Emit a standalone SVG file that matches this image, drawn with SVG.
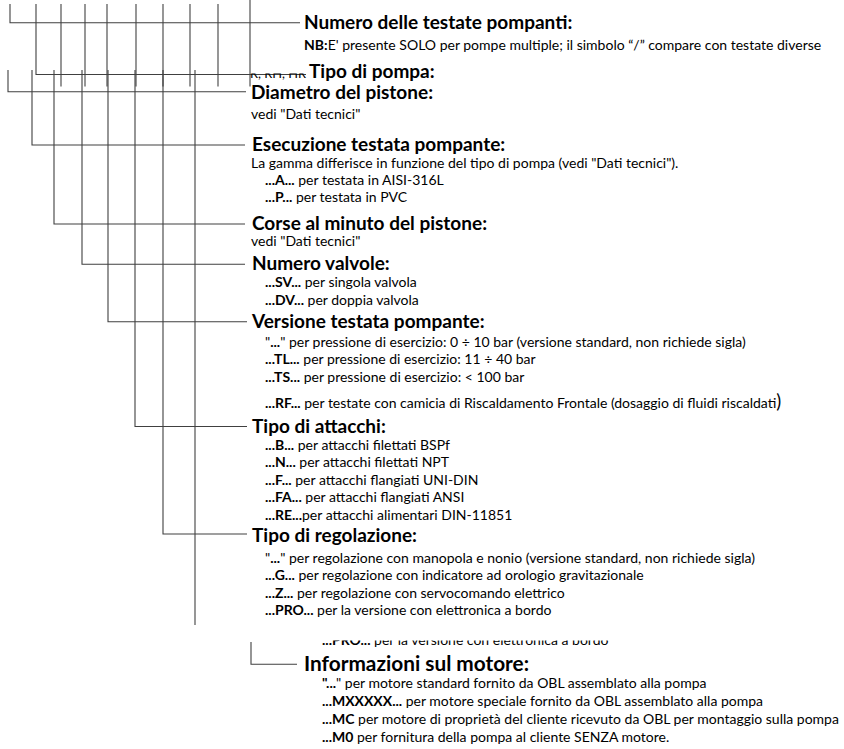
<svg xmlns="http://www.w3.org/2000/svg" width="844" height="749" viewBox="0 0 844 749">
<defs>
<style>
.h{font-family:Lato,"Open Sans",sans-serif;font-weight:bold;font-size:19px;fill:#000}
.hl{font-size:20.8px}
.t{font-family:Lato,"Open Sans",sans-serif;font-size:14px;fill:#000}
.b{font-weight:bold}
.c{fill:none;stroke:#404040;stroke-width:1.1}
</style>
<clipPath id="clipR"><rect x="240" y="73.5" width="68" height="10"/></clipPath>
<clipPath id="clipPRO"><rect x="300" y="640.5" width="440" height="12"/></clipPath>
</defs>
<rect width="844" height="749" fill="#fff"/>
<g id="connectors" class="c">
<path d="M10 4V22.7H300"/>
<path d="M36 4V74.5H306"/>
<path d="M61 4V86.5"/>
<path d="M85 4V86.5"/>
<path d="M107 4V86.5"/>
<path d="M136 4V86.5"/>
<path d="M163 4V86.5"/>
<path d="M190 4V86.5"/>
<path d="M218 4V86.5"/>
<path d="M250 0V86.5"/>
<path d="M8 70V91.7H246"/>
<path d="M32 70V145H245"/>
<path d="M54 70V224H245"/>
<path d="M82 70V264.3H245"/>
<path d="M108 70V321.7H247"/>
<path d="M135 70V426.5H247"/>
<path d="M163 70V534H247"/>
<path d="M195 70V625"/>
<path d="M251 642V664.3H297"/>
</g>
<g id="n1">
<text class="h" x="304" y="29">Numero delle testate pompanti:</text>
<text class="t" x="304" y="50"><tspan class="b">NB:</tspan>E' presente SOLO per pompe multiple; il simbolo “/” compare con testate diverse</text>
</g>
<g id="n2">
<text class="t" x="250" y="78" textLength="56" lengthAdjust="spacingAndGlyphs" clip-path="url(#clipR)">R, RH, HR</text>
<text class="h" x="309" y="78">Tipo di pompa:</text>
</g>
<g id="n3">
<text class="h" x="251" y="99">Diametro del pistone:</text>
<text class="t" x="251" y="119">vedi "Dati tecnici"</text>
</g>
<g id="n4">
<text class="h" x="252" y="150.5">Esecuzione testata pompante:</text>
<text class="t" x="251" y="167.5">La gamma differisce in funzione del tipo di pompa (vedi "Dati tecnici").</text>
<text class="t" x="265" y="184.5"><tspan class="b">...A...</tspan> per testata in AISI-316L</text>
<text class="t" x="265" y="201.5"><tspan class="b">...P...</tspan> per testata in PVC</text>
</g>
<g id="n5">
<text class="h" x="252" y="229.5">Corse al minuto del pistone:</text>
<text class="t" x="251" y="246">vedi "Dati tecnici"</text>
</g>
<g id="n6">
<text class="h" x="252" y="270">Numero valvole:</text>
<text class="t" x="265" y="287"><tspan class="b">...SV...</tspan> per singola valvola</text>
<text class="t" x="265" y="304.5"><tspan class="b">...DV...</tspan> per doppia valvola</text>
</g>
<g id="n7">
<text class="h" x="252" y="327.5">Versione testata pompante:</text>
<text class="t" x="265" y="346.5">"<tspan class="b">...</tspan>" per pressione di esercizio: 0 ÷ 10 bar (versione standard, non richiede sigla)</text>
<text class="t" x="265" y="364"><tspan class="b">...TL...</tspan> per pressione di esercizio: 11 ÷ 40 bar</text>
<text class="t" x="265" y="381.5"><tspan class="b">...TS...</tspan> per pressione di esercizio: &lt; 100 bar</text>
<text class="t" x="265" y="407.5"><tspan class="b">...RF...</tspan> per testate con camicia di Riscaldamento Frontale (dosaggio di fluidi riscaldati<tspan font-size="18.5">)</tspan></text>
</g>
<g id="n8">
<text class="h" x="252" y="432.5">Tipo di attacchi:</text>
<text class="t" x="265" y="449.5"><tspan class="b">...B...</tspan> per attacchi filettati BSPf</text>
<text class="t" x="265" y="467"><tspan class="b">...N...</tspan> per attacchi filettati NPT</text>
<text class="t" x="265" y="484.5"><tspan class="b">...F...</tspan> per attacchi flangiati UNI-DIN</text>
<text class="t" x="265" y="502"><tspan class="b">...FA...</tspan> per attacchi flangiati ANSI</text>
<text class="t" x="265" y="519.5"><tspan class="b">...RE...</tspan>per attacchi alimentari DIN-11851</text>
</g>
<g id="n9">
<text class="h" x="252" y="542">Tipo di regolazione:</text>
<text class="t" x="265" y="562.5">"<tspan class="b">...</tspan>" per regolazione con manopola e nonio (versione standard, non richiede sigla)</text>
<text class="t" x="265" y="580"><tspan class="b">...G...</tspan> per regolazione con indicatore ad orologio gravitazionale</text>
<text class="t" x="265" y="597.5"><tspan class="b">...Z...</tspan> per regolazione con servocomando elettrico</text>
<text class="t" x="265" y="615"><tspan class="b">...PRO...</tspan> per la versione con elettronica a bordo</text>
</g>
<g id="n10">
<text class="t" x="322" y="645" clip-path="url(#clipPRO)"><tspan class="b">...PRO...</tspan> per la versione con elettronica a bordo</text>
<text class="h hl" x="304" y="670.5">Informazioni sul motore:</text>
<text class="t" x="322" y="688"><tspan class="b">"...</tspan>" per motore standard fornito da OBL assemblato alla pompa</text>
<text class="t" x="322" y="706"><tspan class="b">...MXXXXX...</tspan> per motore speciale fornito da OBL assemblato alla pompa</text>
<text class="t" x="322" y="724"><tspan class="b">...MC</tspan> per motore di proprietà del cliente ricevuto da OBL per montaggio sulla pompa</text>
<text class="t" x="322" y="742"><tspan class="b">...M0</tspan> per fornitura della pompa al cliente SENZA motore.</text>
</g>
</svg>
